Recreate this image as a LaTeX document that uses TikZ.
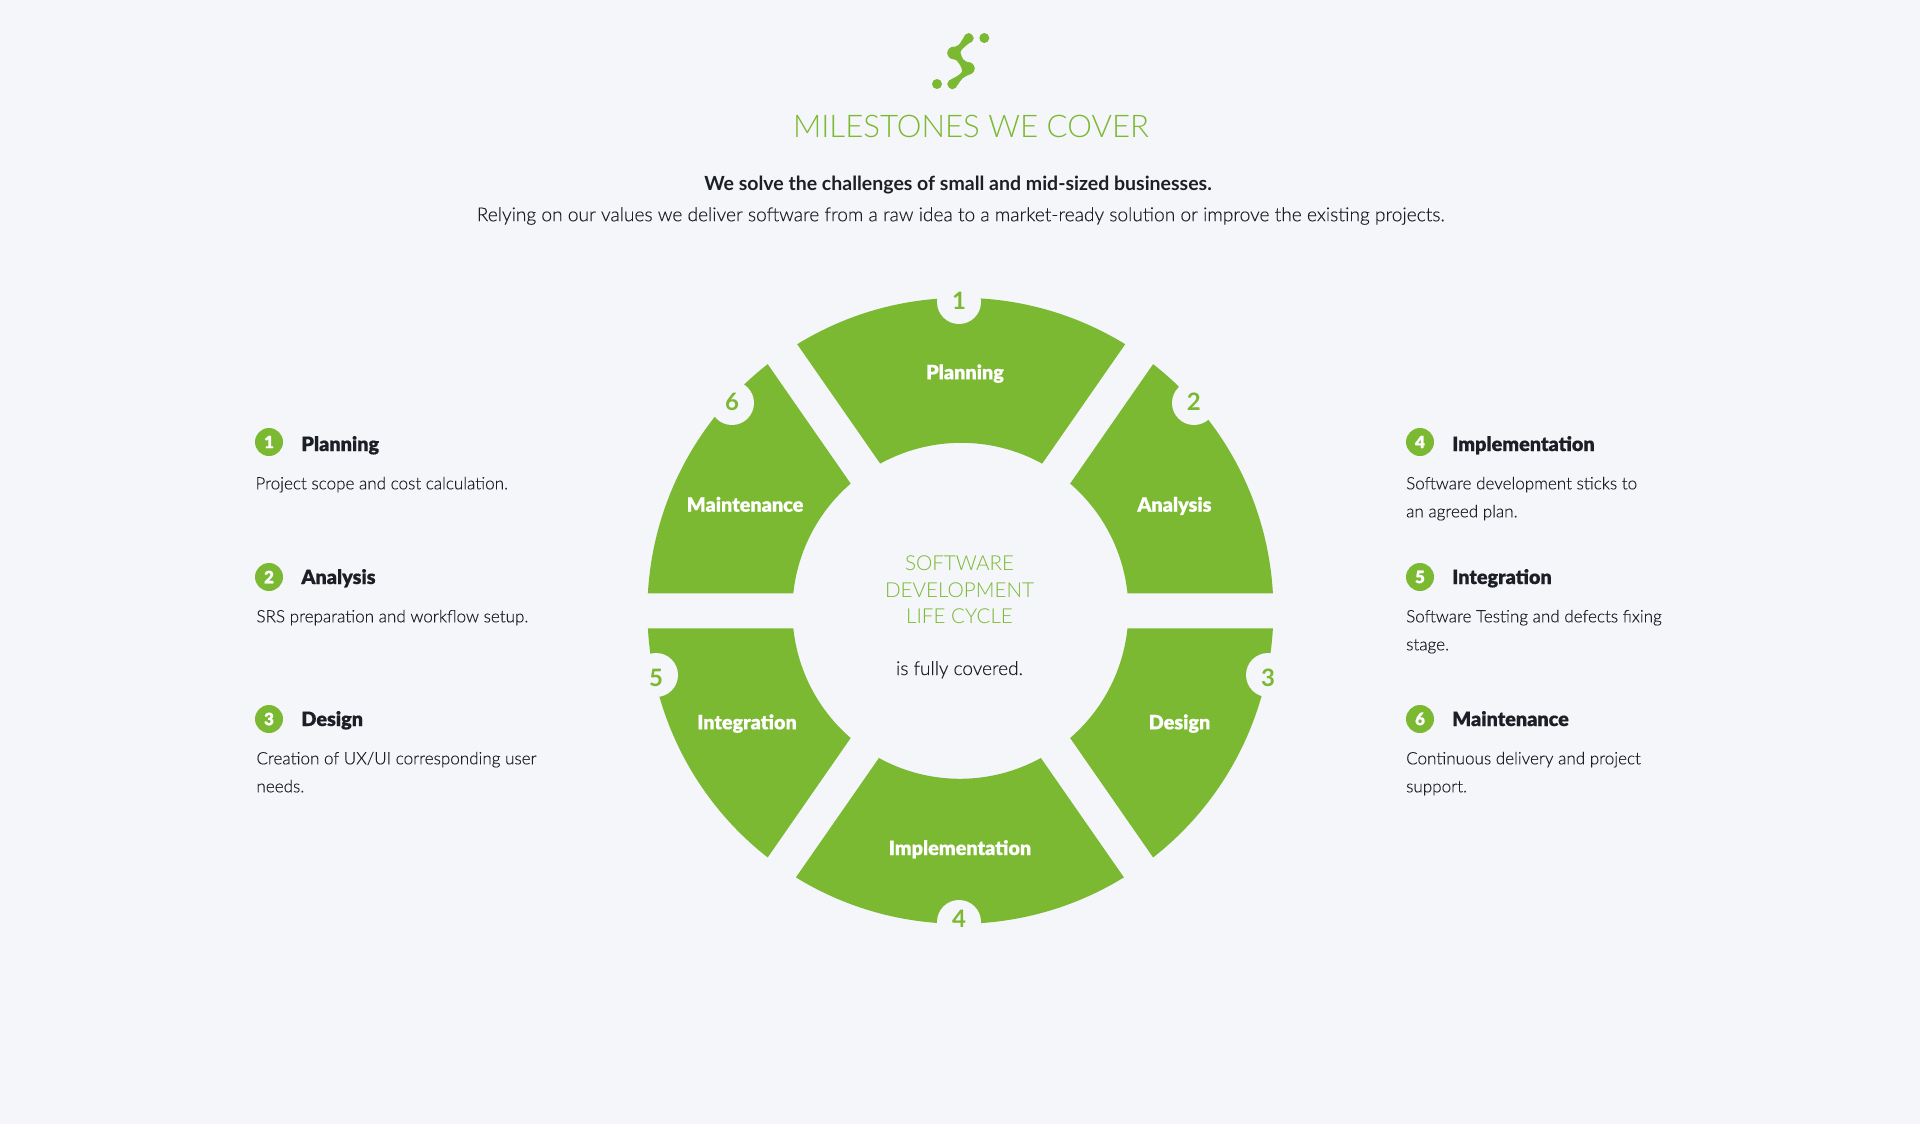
\documentclass[tikz,border=0pt]{standalone}
\usepackage{fontspec}
\usetikzlibrary{calc}
\setmainfont{Lato}
\newfontfamily\lightfont[FakeBold=0.25]{Lato Light}
\newfontfamily\thinfont{Lato Light}
\newfontfamily\blackfont[FakeBold=0.5]{Lato Black}
\definecolor{pagebg}{HTML}{F4F6FA}
\definecolor{leafgreen}{HTML}{7CB932}
\definecolor{inkdark}{HTML}{1D1F26}
\tikzset{
    wheelpart/.style={fill=leafgreen},
    notch/.style={circle,fill=pagebg,inner sep=0pt,minimum size=44pt},
    notchnum/.style={anchor=center,inner sep=0pt,text=leafgreen,font=\bfseries\fontsize{24}{24}\selectfont},
    partname/.style={anchor=base,inner sep=0pt,text=white,font=\blackfont\fontsize{19.8}{20}\selectfont},
    hubtext/.style={anchor=base,inner sep=0pt,text=leafgreen,font=\thinfont\fontsize{20.6}{21}\selectfont},
    badge/.style={circle,fill=leafgreen,inner sep=0pt,minimum size=28pt,text=white,font=\blackfont\fontsize{17}{17}\selectfont},
    heading/.style={anchor=base west,inner sep=0pt,text=inkdark,font=\blackfont\fontsize{19.8}{20}\selectfont},
    blurb/.style={anchor=base west,inner sep=0pt,text=inkdark,font=\lightfont\fontsize{17.05}{17}\selectfont},
}
% one block of the ring, between two radial cuts
\newcommand{\ringblock}[3]{
    \fill [wheelpart] ($(#1)+(#2+3.2:313pt)$) arc [start angle=#2+3.2, end angle=#3-3.2, radius=313pt]
        -- ($(#1)+(#3-5.98:168pt)$) arc [start angle=#3-5.98, end angle=#2+5.98, radius=168pt] -- cycle;
}
\begin{document}
\begin{tikzpicture}[x=1pt,y=-1pt]
        \path [fill=pagebg,use as bounding box] (0, 0) rectangle (1920, 1124);

        % logo
        \filldraw [leafgreen,line width=1.2pt] plot [smooth cycle,tension=0.55] coordinates {
            (968.7, 33.8) (973, 38.3) (968.3, 43) (961.5, 49) (960, 53.3) (963, 60)
            (968.3, 63.3) (974, 68.3) (970, 73.2) (962, 78) (957.3, 84.3) (952.3, 88.6)
            (948, 84) (952.3, 79.4) (957, 76.9) (962.5, 72) (961.2, 66) (957, 60)
            (952.7, 58) (948, 53) (952.7, 48.4) (959, 45.4) (964, 38.3)};
        \fill [leafgreen] (968.5, 38.3) circle (5pt);
        \fill [leafgreen] (953.6, 53) circle (6.3pt);
        \fill [leafgreen] (968.3, 68.4) circle (6.3pt);
        \fill [leafgreen] (952.5, 84) circle (5pt);
        \fill [leafgreen] (984.3, 38) circle (5pt);
        \fill [leafgreen] (937, 84) circle (5pt);

        % header
        \node [anchor=base,inner sep=0pt,text=leafgreen,font=\thinfont\fontsize{31.2}{31}\selectfont] (title) at (971, 137.7) {MILESTONES WE COVER};
        \node [anchor=base,inner sep=0pt,text=inkdark,font=\bfseries\fontsize{19.5}{20}\selectfont] (lead) at (958, 190.5) {We solve the challenges of small and mid-sized businesses.};
        \node [anchor=base,inner sep=0pt,text=inkdark,font=\lightfont\fontsize{19.15}{19}\selectfont] (sublead) at (960.6, 221.2) {Relying on our values we deliver software from a raw idea to a market-ready solution or improve the existing projects.};

        % ring
        \coordinate (hub) at (960.4, 610.8);
        \coordinate (hubtop) at (961.2, 610.8);
        \coordinate (hubbottom) at (959.9, 610.8);
        \ringblock{hub}{0}{55.2}
        \ringblock{hubtop}{55.2}{124.8}
        \ringblock{hub}{124.8}{180}
        \ringblock{hub}{180}{235.2}
        \ringblock{hubbottom}{235.2}{304.8}
        \ringblock{hub}{304.8}{360}

        \node [notch] (notcha) at (959, 302) {};
        \node [notch] (notchb) at (1194, 403) {};
        \node [notch] (notchc) at (1268, 675) {};
        \node [notch] (notchd) at (959, 922) {};
        \node [notch] (notche) at (656, 675) {};
        \node [notch] (notchf) at (732, 403) {};
        \node [notchnum] (numa) at (959, 300.5) {1};
        \node [notchnum] (numb) at (1193.7, 402) {2};
        \node [notchnum] (numc) at (1268, 678) {3};
        \node [notchnum] (numd) at (959, 919) {4};
        \node [notchnum] (nume) at (656, 678) {5};
        \node [notchnum] (numf) at (732, 402) {6};

        \node [partname] (planning) at (965, 379.3) {Planning};
        \node [partname] (analysis) at (1174.4, 511.7) {Analysis};
        \node [partname] (design) at (1179.5, 729.3) {Design};
        \node [partname] (implementation) at (960, 855) {Implementation};
        \node [partname] (integration) at (747, 729.3) {Integration};
        \node [partname] (maintenance) at (745, 511.7) {Maintenance};

        % centre of the ring
        \node [hubtext] (software) at (959.5, 570.5) {SOFTWARE};
        \node [hubtext] (development) at (959.5, 597.2) {DEVELOPMENT};
        \node [hubtext] (lifecycle) at (959.5, 623.8) {LIFE CYCLE};
        \node [anchor=base,inner sep=0pt,text=inkdark,font=\lightfont\fontsize{19}{19}\selectfont] (covered) at (959.5, 675) {is fully covered.};

        % left column
        \node [badge] (badgea) at (269, 442) {1};
        \node [heading] (heada) at (301.2, 451) {Planning};
        \node [blurb] (texta) at (255.3, 489.3) {Project scope and cost calculation.};
        \node [badge] (badgeb) at (269, 577) {2};
        \node [heading] (headb) at (301.2, 584) {Analysis};
        \node [blurb] (textb) at (256.3, 622.3) {SRS preparation and workflow setup.};
        \node [badge] (badgec) at (269, 719) {3};
        \node [heading] (headc) at (301.2, 726) {Design};
        \node [blurb] (textc) at (256.3, 764.3) {Creation of UX/UI corresponding user};
        \node [blurb] (textcc) at (256.3, 792.3) {needs.};

        % right column
        \node [badge] (badged) at (1420, 442) {4};
        \node [heading] (headd) at (1452, 451) {Implementation};
        \node [blurb] (textd) at (1406, 489.3) {Software development sticks to};
        \node [blurb] (textdd) at (1406, 517.3) {an agreed plan.};
        \node [badge] (badgee) at (1420, 577) {5};
        \node [heading] (heade) at (1452, 584) {Integration};
        \node [blurb] (texte) at (1406, 622.3) {Software Testing and defects fixing};
        \node [blurb] (textee) at (1406, 650.3) {stage.};
        \node [badge] (badgef) at (1420, 719) {6};
        \node [heading] (headf) at (1452, 726) {Maintenance};
        \node [blurb] (textf) at (1406, 764.3) {Continuous delivery and project};
        \node [blurb] (textff) at (1406, 792.3) {support.};
\end{tikzpicture}
\end{document}
